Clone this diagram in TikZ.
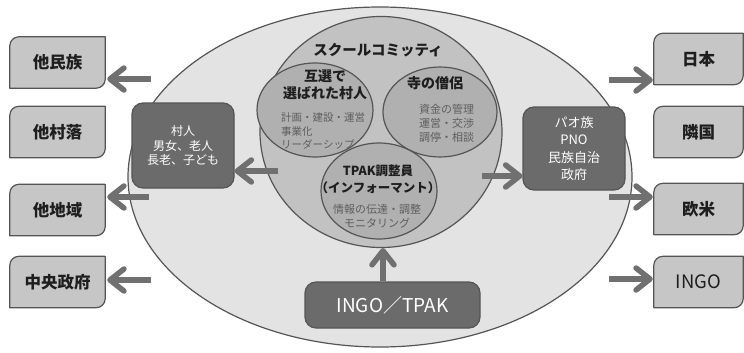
\documentclass[tikz,border=0pt]{standalone}
\usepackage{fontspec}
\setmainfont{Noto Sans CJK JP}
\usetikzlibrary{arrows.meta,backgrounds,shapes.geometric}
\definecolor{edge}{HTML}{555555}
\definecolor{outerfill}{HTML}{E3E3E3}
\definecolor{scfill}{HTML}{C2C2C2}
\definecolor{infill}{HTML}{B0B0B0}
\definecolor{darkc}{HTML}{6B6B6B}
\definecolor{arrowc}{HTML}{707070}
\definecolor{sidefill}{HTML}{C6C6C6}
\definecolor{smalltext}{HTML}{5E5E5E}
\definecolor{titletext}{HTML}{1E1E1E}
\newcommand{\cutbox}[1]{%
  \draw[fill=sidefill,draw=edge,line width=1.2pt,line join=round]
    (#1.south west) -- ([yshift=-9pt]#1.north west)
    arc[start angle=180,end angle=90,radius=9pt]
    -- (#1.north east) -- ([yshift=9pt]#1.south east)
    arc[start angle=0,end angle=-90,radius=9pt] -- cycle;}
\tikzset{
  arr/.style={draw=arrowc, line width=5.5pt, -{Straight Barb[length=14pt,width=22pt,round]}},
  sidebox/.style={minimum width=95pt, minimum height=51pt, inner sep=0pt,
    font=\fontsize{16.5}{18}\selectfont\bfseries, text=titletext},
  rsidebox/.style={sidebox, minimum width=89pt},
  darkbox/.style={draw=edge, fill=darkc, rounded corners=11pt, line width=1.2pt,
    text=white, align=center, inner sep=0pt},
  circ/.style={ellipse, draw=edge, line width=1.2pt, inner sep=0pt},
  ttl/.style={align=center, text=titletext, inner sep=0pt},
  small/.style={text=smalltext, inner sep=0pt, font=\fontsize{10.5}{13.5}\selectfont}
}
\begin{document}
\begin{tikzpicture}[x=1pt,y=-1pt]
\useasboundingbox (0,0) rectangle (744,353);
% outer ellipse
\node[circ, fill=outerfill, minimum width=504pt, minimum height=340pt] (out) at (380,177) {};
% school committee
\node[circ, fill=scfill, minimum width=242pt, minimum height=231pt] (sc) at (381,132) {};
\node[circ, fill=infill, minimum width=116pt, minimum height=94pt] (ka) at (315,110) {};
\node[circ, fill=infill, minimum width=114pt, minimum height=90pt] (te) at (440,112) {};
\node[circ, fill=infill, minimum width=116pt, minimum height=96pt] (tp) at (379,191) {};
% texts inside
\node[ttl, font=\fontsize{14.5}{17}\selectfont\bfseries] (t0) at (378,50) {スクールコミッティ};
\node[ttl, font=\fontsize{14}{17}\selectfont\bfseries] (kat) at (325,85) {互選で\\選ばれた村人};
\node[small, align=left, anchor=west] (kab) at (281,131) {計画・建設・運営\\事業化\\リーダーシップ};
\node[ttl, font=\fontsize{14}{17}\selectfont\bfseries] (tet) at (435,83) {寺の僧侶};
\node[small, align=left, anchor=west, font=\fontsize{11}{14}\selectfont] (teb) at (419,123) {資金の管理\\運営・交渉\\調停・相談};
\node[ttl, font=\fontsize{12.5}{17}\selectfont\bfseries] (tpt) at (378,179.5) {TPAK調整員\\（インフォーマント）};
\node[small, align=center, font=\fontsize{11}{13.5}\selectfont] (tpb) at (377,216.5) {情報の伝達・調整\\モニタリング};
% dark boxes
\node[darkbox, minimum width=102pt, minimum height=85pt, font=\fontsize{12}{14.5}\selectfont] (vil) at (183,145.5) {村人\\男女、老人\\長老、子ども};
\node[darkbox, minimum width=102pt, minimum height=83pt, font=\fontsize{13}{17.5}\selectfont] (pao) at (574,148.5) {パオ族\\PNO\\民族自治\\政府};
\node[darkbox, minimum width=175pt, minimum height=46pt, font=\fontsize{19}{22}\selectfont] (ib) at (392.5,305) {INGO／TPAK};
% side boxes
\node[sidebox] (lb1) at (57.5,62.5) {他民族};
\node[sidebox] (lb2) at (57.5,132) {他村落};
\node[sidebox] (lb3) at (57.5,210) {他地域};
\node[sidebox] (lb4) at (57.5,282) {中央政府};
\node[rsidebox] (rb1) at (698.5,59) {日本};
\node[rsidebox] (rb2) at (698.5,132) {隣国};
\node[rsidebox] (rb3) at (698.5,209) {欧米};
\node[rsidebox, font=\fontsize{18.5}{20}\selectfont] (rb4) at (698.5,282) {INGO};
\begin{scope}[on background layer]
\cutbox{lb1}\cutbox{lb2}\cutbox{lb3}\cutbox{lb4}
\cutbox{rb1}\cutbox{rb2}\cutbox{rb3}\cutbox{rb4}
\end{scope}
% arrow start points
\coordinate (s1) at (151,79);
\coordinate (s3) at (149,197);
\coordinate (s4) at (151,280);
\coordinate (r1) at (609,80);
\coordinate (r3) at (609,197);
\coordinate (r4) at (609,279);
\coordinate (sv) at (278,171);
\coordinate (sp) at (482,176);
\coordinate (su) at (383,282);
% arrows
\draw[arr] (s1) -- ([xshift=2pt]lb1.east |- s1);
\draw[arr] (s3) -- ([xshift=2pt]lb3.east |- s3);
\draw[arr] (s4) -- ([xshift=2pt]lb4.east |- s4);
\draw[arr] (r1) -- ([xshift=-1pt]rb1.west |- r1);
\draw[arr] (r3) -- ([xshift=-1pt]rb3.west |- r3);
\draw[arr] (r4) -- ([xshift=-1pt]rb4.west |- r4);
\draw[arr] (sv) -- (vil.east |- sv);
\draw[arr] (sp) -- (pao.west |- sp);
\draw[arr] (ib.north -| su) -- (sc.south -| su);
\end{tikzpicture}
\end{document}
